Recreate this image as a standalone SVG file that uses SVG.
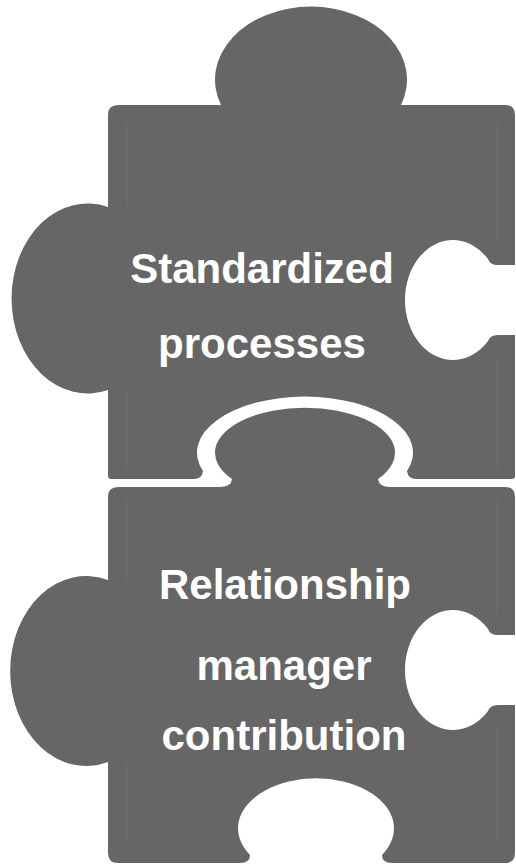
<svg xmlns="http://www.w3.org/2000/svg" width="516" height="865" viewBox="0 0 516 865">
<style>
.piece{fill:#666666;stroke:none}
.inset{fill:none;stroke:#6f6f6f;stroke-width:1}
.label{font-family:"Liberation Sans",Arial,sans-serif;font-weight:bold;font-size:42px;fill:#ffffff;text-anchor:middle}
</style>
<rect width="516" height="865" fill="#ffffff"/>
<g id="piece-standardized">
<path class="piece" d="M118,105 L221,105 A96,73 0 1 1 401,105 L505,105 Q515,105 515,115 L515,265 L498,265 Q490,265 488,259 A48,60 0 1 0 488,341 Q490,335 498,335 L515,335 L515,476 Q515,479 512,479 L416,479 Q408,479 407,471 A108,56 0 1 0 203,471 Q202,479 194,479 L111,479 Q108,479 108,476 L108,390 A76,95 0 1 1 108,207 L108,115 Q108,105 118,105 Z"/>
<path class="inset" d="M127,124 L127,207 M127,390 L127,470 M497,124 L497,245 M497,355 L497,470"/>
<text class="label" x="262" y="283">Standardized</text>
<text class="label" x="262" y="358">processes</text>
</g>
<g id="piece-relationship">
<path class="piece" d="M118,487 L220,487 Q231,487 232,479 A90,45 0 1 1 378,479 Q379,487 390,487 L505,487 Q515,487 515,497 L515,635 L498,635 Q490,635 488,629 A48,60 0 1 0 488,711 Q490,705 498,705 L515,705 L515,853 Q515,863 505,863 L392,863 Q382,863 382,855 A78,50 0 1 0 250,855 Q250,863 240,863 L118,863 Q108,863 108,853 L108,762 A76,95 0 1 1 108,580 L108,497 Q108,487 118,487 Z"/>
<path class="inset" d="M127,500 L127,580 M127,762 L127,845 M497,500 L497,615 M497,725 L497,845"/>
<text class="label" x="285" y="599">Relationship</text>
<text class="label" x="284" y="680">manager</text>
<text class="label" x="284" y="750">contribution</text>
</g>
<g id="connectors"/>
</svg>
